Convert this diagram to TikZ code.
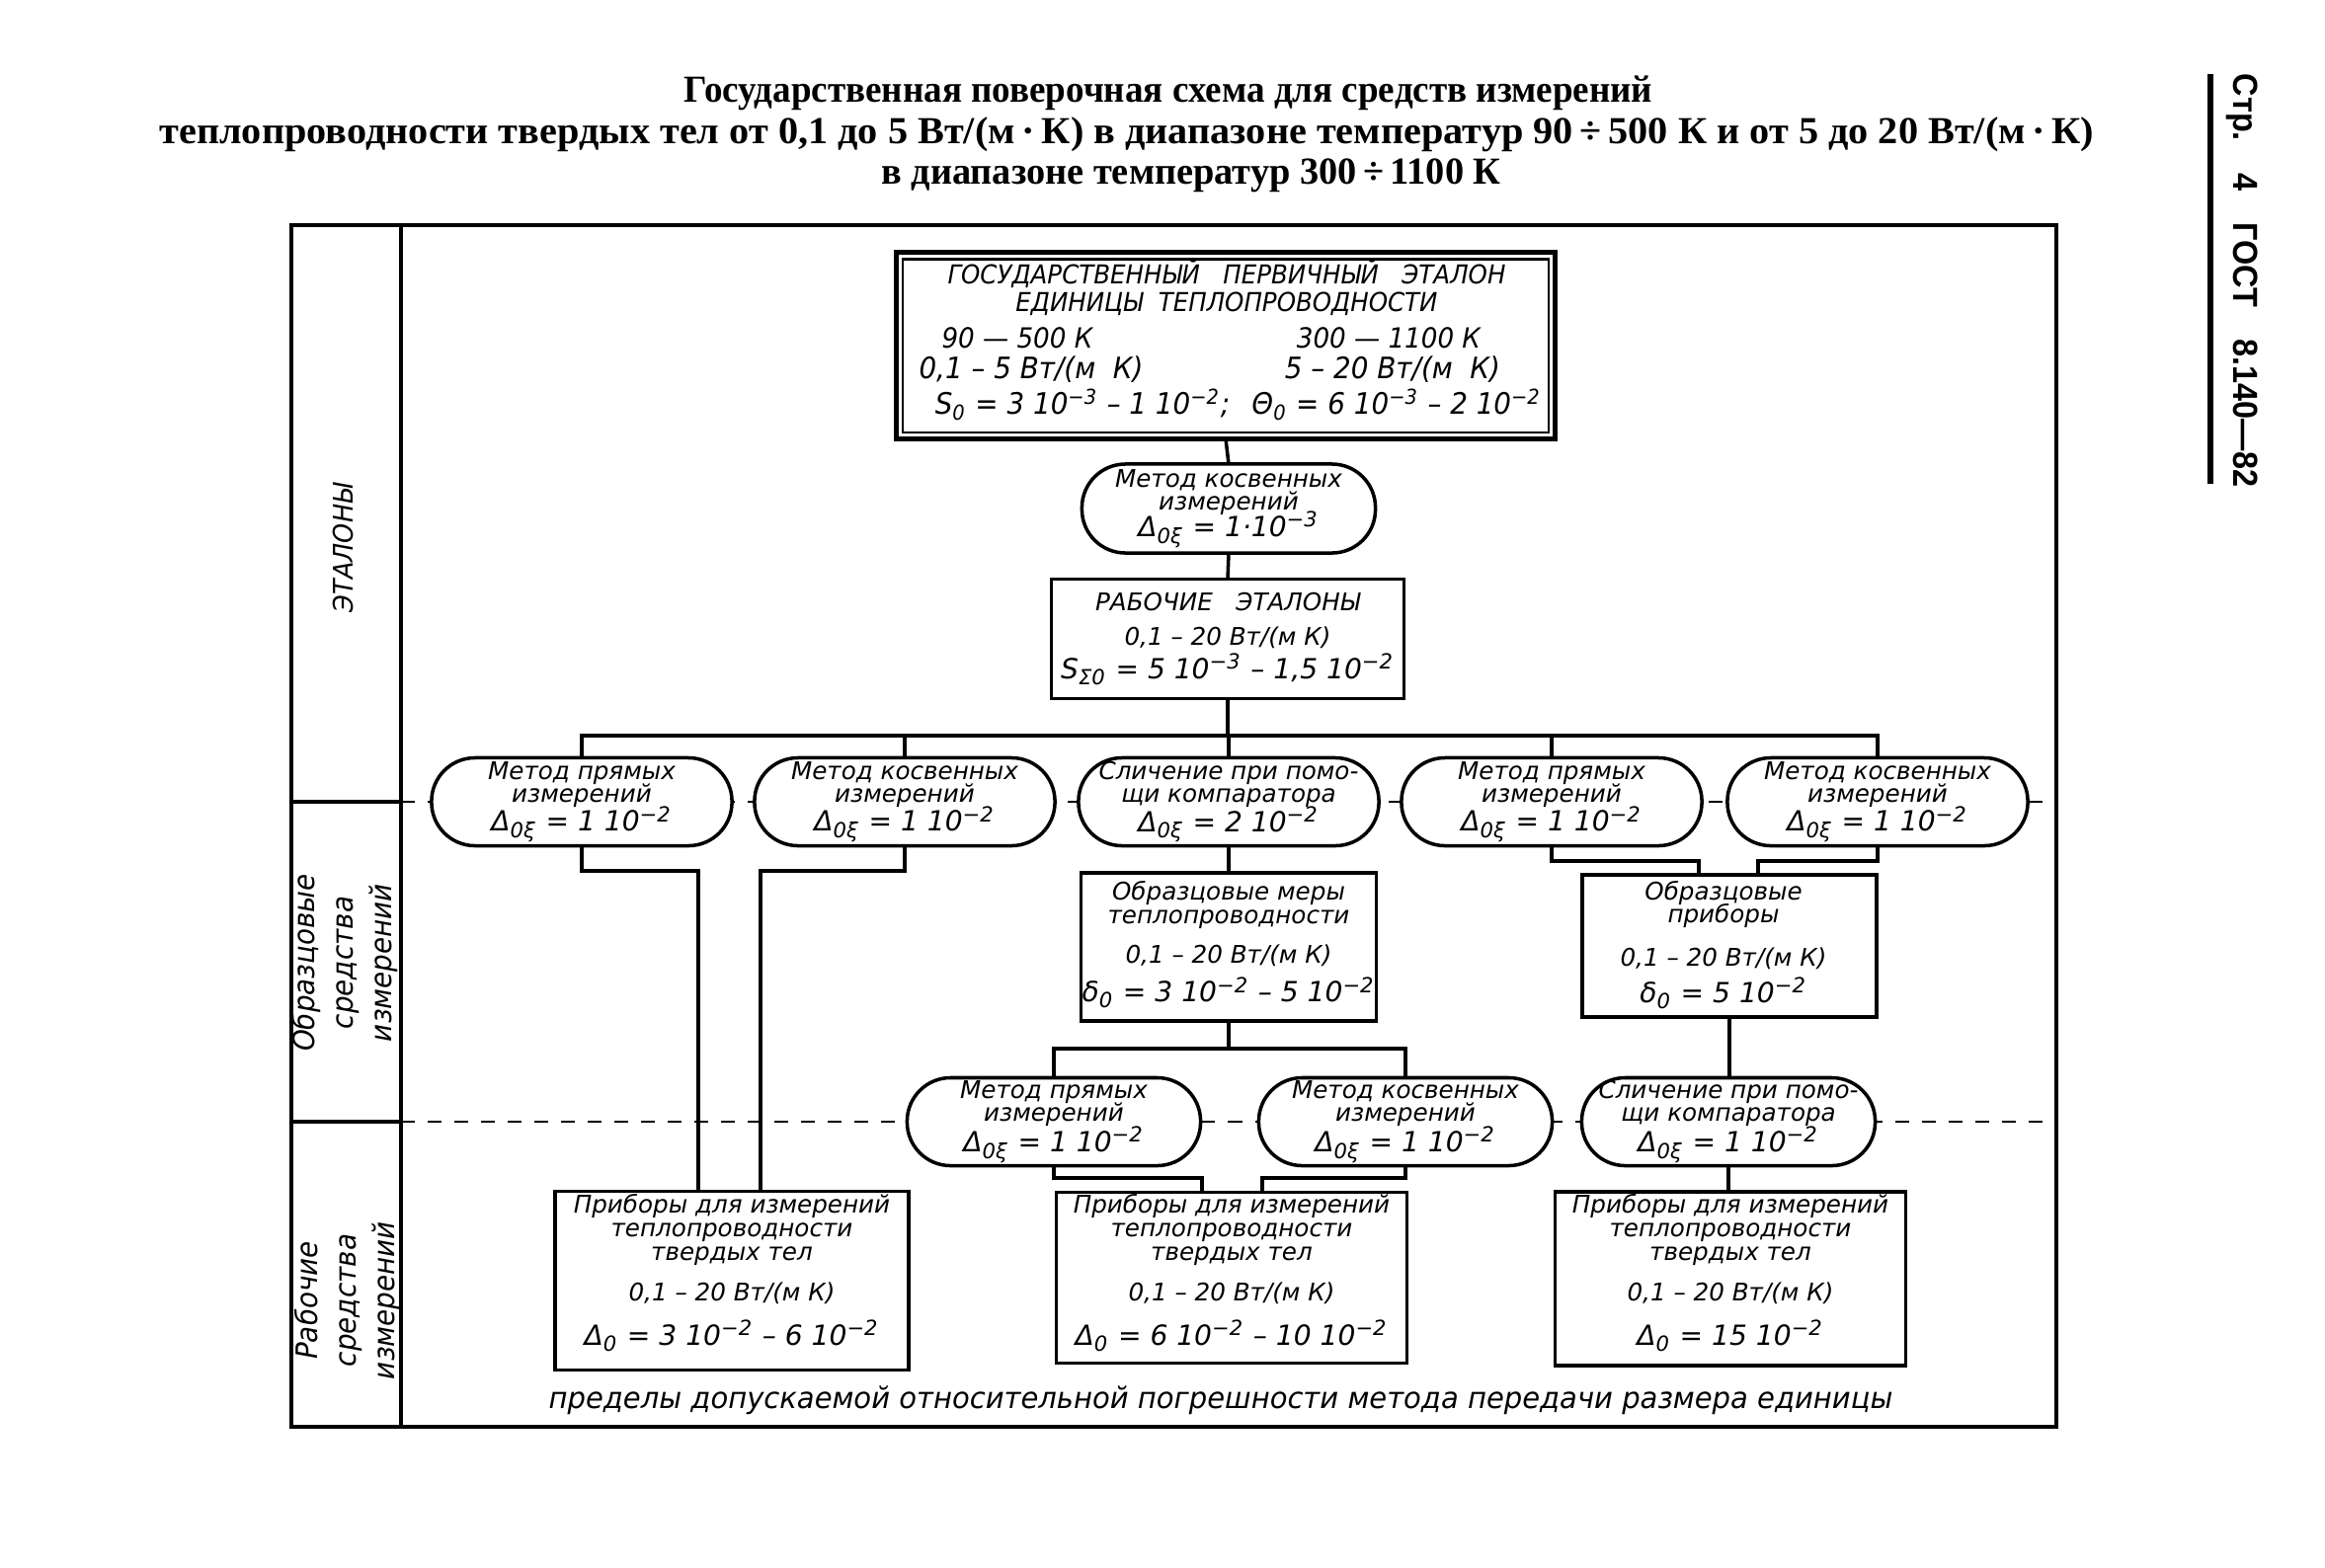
\documentclass[tikz,border=0pt]{standalone}
\usepackage{fontspec}
\usepackage{graphicx}
\usetikzlibrary{calc}
\newfontfamily\gostfont[FakeStretch=0.93]{DejaVu Sans}
\newfontfamily\gostw{DejaVu Sans}
\newfontfamily\ttlfont{Liberation Serif}
\newfontfamily\hdrfont{Liberation Sans}
\newcommand{\upx}[1]{\textsuperscript{#1}}
\newcommand{\dnx}[1]{\textsubscript{#1}}
\newcommand{\dl}{\fontsize{8}{8}\selectfont}
\newcommand{\tightls}{\lineskiplimit=-20pt\relax}
\begin{document}
\begin{tikzpicture}[x=0.01cm,y=-0.01cm,
  every node/.style={inner sep=0pt, outer sep=0pt},
  gost/.style={font={\gostw\itshape\fontsize{7}{6.6}\selectfont\tightls}, align=center},
  rbox/.style={gost, draw, line width=1pt, fill=white},
  caps/.style={gost, draw, line width=1pt, fill=white, rounded corners=0.44cm, minimum width=3.0cm, minimum height=0.89cm},
  conn/.style={line width=1pt},
  dline/.style={line width=0.6pt, dash pattern=on 1.4mm off 1.3mm},
  frm/.style={line width=1.1pt},
  side/.style={font=\gostfont\itshape\fontsize{8.5}{11}\selectfont, align=center, rotate=90},
  ttl/.style={font=\ttlfont\bfseries\fontsize{11}{12}\selectfont}
]
\useasboundingbox (0,0) rectangle (2354,1587);

% titles
\node[ttl] (t1) at (1183,94) {\resizebox{9.8cm}{\height}{Государственная поверочная схема для средств измерений}};
\node[ttl] (t2) at (1141,136) {\resizebox{19.58cm}{\height}{теплопроводности твердых тел от 0,1 до 5 Вт/(м\,·\,К) в диапазоне температур 90\,÷\,500 К и от 5 до 20 Вт/(м\,·\,К)}};
\node[ttl] (t3) at (1206,178) {\resizebox{6.27cm}{\height}{в диапазоне температур 300\,÷\,1100 К}};

% header at right
\node[rotate=-90, font=\hdrfont\bfseries\fontsize{10}{12}\selectfont] (hdr) at (2270,284) {\resizebox{4.18cm}{\height}{Стр.\quad 4\quad ГОСТ\quad 8.140—82}};
\draw[line width=1.6pt] (2238,75) -- (2238,490);

% frame
\draw[frm] (295,228) rectangle (2082,1445);
\draw[frm] (406,228) -- (406,1445);
\draw[frm] (295,812) -- (406,812);
\draw[frm] (295,1136) -- (406,1136);
\draw[dline] (406,812) -- (2082,812);
\draw[dline] (406,1136) -- (2082,1136);

% side labels
\node[side, font=\gostfont\itshape\fontsize{7.8}{11}\selectfont] (s1) at (348,555) {ЭТАЛОНЫ};
\node[side] (s2) at (349,975) {Образцовые\\средства\\измерений};
\node[side] (s3) at (352,1317) {Рабочие\\средства\\измерений};

% state primary standard
\node[draw, line width=1.4pt, fill=white, minimum width=6.67cm, minimum height=1.89cm] (sb) at (1241,350) {};
\draw[line width=0.6pt] ($(sb.north west)+(7,7)$) rectangle ($(sb.south east)+(-7,-7)$);
\node[gost, font=\gostfont\itshape\fontsize{7.5}{7}\selectfont] (sb1) at (1242,277) {ГОСУДАРСТВЕННЫЙ~~~ПЕРВИЧНЫЙ~~~ЭТАЛОН};
\node[gost, font=\gostfont\itshape\fontsize{7.5}{7}\selectfont] (sb2) at (1242,308) {ЕДИНИЦЫ~~ТЕПЛОПРОВОДНОСТИ};
\node[gost, font=\gostfont\itshape\fontsize{8}{8}\selectfont] (sb3) at (1030,342) {90 — 500 К};
\node[gost, font=\gostfont\itshape\fontsize{8}{8}\selectfont] (sb4) at (1406,342) {300 — 1100 К};
\node[gost, font=\gostfont\itshape\fontsize{8.5}{8}\selectfont] (sb5) at (1044,374) {0,1 – 5 Вт/(м~~К)};
\node[gost, font=\gostfont\itshape\fontsize{8.5}{8}\selectfont] (sb6) at (1410,374) {5 – 20 Вт/(м~~К)};
\node[gost, font=\gostfont\itshape\fontsize{8.5}{8}\selectfont] (sb7) at (1096,410) {S\dnx{0} = 3 10\upx{−3} – 1 10\upx{−2};};
\node[gost, font=\gostfont\itshape\fontsize{8.5}{8}\selectfont] (sb8) at (1414,410) {Θ\dnx{0} = 6 10\upx{−3} – 2 10\upx{−2}};

% indirect method capsule
\node[caps, minimum width=2.97cm, minimum height=0.9cm] (k0) at (1244,515) {Метод косвенных\\измерений\\[1.2pt]{\dl Δ\dnx{0ξ} = 1·10\upx{−3}}};

% working standards
\node[rbox, minimum width=3.57cm, minimum height=1.21cm] (ws) at (1243,647) {РАБОЧИЕ~~~ЭТАЛОНЫ\\[3.4pt]0,1 – 20 Вт/(м~К)\\[3.2pt]{\dl S\dnx{Σ0} = 5 10\upx{−3} – 1,5 10\upx{−2}}};

% first row of methods
\node[caps, minimum width=3.04cm] (c1) at (589,812) {Метод прямых\\измерений\\[1.8pt]{\dl Δ\dnx{0ξ} = 1 10\upx{−2}}};
\node[caps, minimum width=3.04cm] (c2) at (916,812) {Метод косвенных\\измерений\\[1.8pt]{\dl Δ\dnx{0ξ} = 1 10\upx{−2}}};
\node[caps, minimum width=3.04cm] (c3) at (1244,812) {Сличение при помо-\\щи компаратора\\[1.8pt]{\dl Δ\dnx{0ξ} = 2 10\upx{−2}}};
\node[caps, minimum width=3.04cm] (c4) at (1571,812) {Метод прямых\\измерений\\[1.8pt]{\dl Δ\dnx{0ξ} = 1 10\upx{−2}}};
\node[caps, minimum width=3.04cm] (c5) at (1901,812) {Метод косвенных\\измерений\\[1.8pt]{\dl Δ\dnx{0ξ} = 1 10\upx{−2}}};

% reference measures and instruments
\node[rbox, minimum width=2.99cm, minimum height=1.50cm] (m1) at (1244,959) {};
\node[gost] (m1t) at (1244,957) {Образцовые меры\\теплопроводности\\[5pt]0,1 – 20 Вт/(м~К)\\[4.5pt]{\dl δ\dnx{0} = 3 10\upx{−2} – 5 10\upx{−2}}};
\node[rbox, minimum width=2.98cm, minimum height=1.44cm] (m2) at (1751,958) {};
\node[gost] (m2t) at (1745,957) {Образцовые\\приборы\\[6pt]0,1 – 20 Вт/(м~К)\\[4pt]{\dl δ\dnx{0} = 5 10\upx{−2}}};

% second row of methods
\node[caps, minimum width=2.97cm] (d1) at (1067,1136) {Метод прямых\\измерений\\[2.2pt]{\dl Δ\dnx{0ξ} = 1 10\upx{−2}}};
\node[caps, minimum width=2.97cm] (d2) at (1423,1136) {Метод косвенных\\измерений\\[2.2pt]{\dl Δ\dnx{0ξ} = 1 10\upx{−2}}};
\node[caps, minimum width=2.97cm] (d3) at (1750,1136) {Сличение при помо-\\щи компаратора\\[2.2pt]{\dl Δ\dnx{0ξ} = 1 10\upx{−2}}};

% working instruments
\node[rbox, minimum width=3.58cm, minimum height=1.81cm] (b1) at (741,1297) {};
\node[gost] (b1t) at (741,1289) {Приборы для измерений\\теплопроводности\\[0.5pt]твердых тел\\[5pt]0,1 – 20 Вт/(м~К)\\[6pt]{\dl Δ\dnx{0} = 3 10\upx{−2} – 6 10\upx{−2}}};
\node[rbox, minimum width=3.55cm, minimum height=1.73cm] (b2) at (1247,1294) {};
\node[gost] (b2t) at (1247,1289) {Приборы для измерений\\теплопроводности\\[0.5pt]твердых тел\\[5pt]0,1 – 20 Вт/(м~К)\\[6pt]{\dl Δ\dnx{0} = 6 10\upx{−2} – 10 10\upx{−2}}};
\node[rbox, minimum width=3.55cm, minimum height=1.76cm] (b3) at (1752,1295) {};
\node[gost] (b3t) at (1752,1289) {Приборы для измерений\\теплопроводности\\[0.5pt]твердых тел\\[5pt]0,1 – 20 Вт/(м~К)\\[6pt]{\dl Δ\dnx{0} = 15 10\upx{−2}}};

% bottom caption
\node[font=\gostfont\itshape\fontsize{8.5}{10}\selectfont] (bt) at (1236,1418) {\resizebox{13.6cm}{\height}{пределы допускаемой относительной погрешности метода передачи размера единицы}};

% connectors
\coordinate (busL) at (589,745);
\coordinate (j1) at (707,882);
\coordinate (j2) at (770,882);
\coordinate (j3) at (1720,872);
\coordinate (j4) at (1780,872);
\coordinate (hb) at (1244,1062);
\coordinate (j6) at (1217,1193);
\coordinate (j7) at (1278,1193);

\draw[conn] (sb.south) -- (k0.north);
\draw[conn] (k0.south) -- (ws.north);
\draw[conn] (ws.south) -- (ws.south |- busL);
\draw[conn] (c1.north) -- (c1.north |- busL) -- (c5.north |- busL) -- (c5.north);
\draw[conn] (c2.north) -- (c2.north |- busL);
\draw[conn] (c3.north) -- (c3.north |- busL);
\draw[conn] (c4.north) -- (c4.north |- busL);
\draw[conn] (c1.south) |- (j1) -- (j1 |- b1.north);
\draw[conn] (c2.south) |- (j2) -- (j2 |- b1.north);
\draw[conn] (c3.south) -- (m1.north);
\draw[conn] (c4.south) |- (j3) -- (j3 |- m2.north);
\draw[conn] (c5.south) |- (j4) -- (j4 |- m2.north);
\draw[conn] (m1.south) -- (hb);
\draw[conn] (d1.north) -- (d1.north |- hb) -- (d2.north |- hb) -- (d2.north);
\draw[conn] (d1.south) |- (j6) -- (j6 |- b2.north);
\draw[conn] (d2.south) |- (j7) -- (j7 |- b2.north);
\draw[conn] (m2.south) -- (m2.south |- d3.north);
\draw[conn] (d3.south) -- (d3.south |- b3.north);
\end{tikzpicture}
\end{document}
